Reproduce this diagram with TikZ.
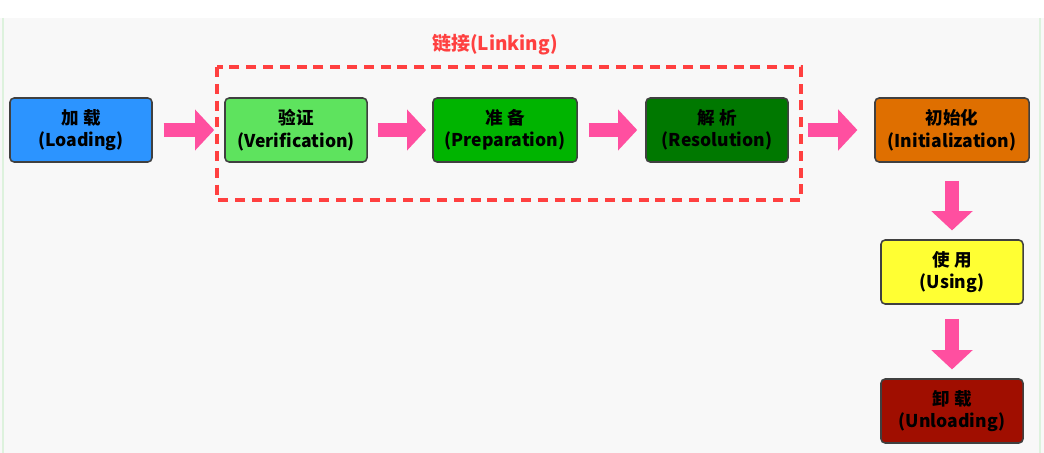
\documentclass[tikz,border=0pt]{standalone}
\usepackage{fontspec}
\newfontfamily\cjk{Noto Sans CJK SC}
\usetikzlibrary{arrows.meta}
\definecolor{bgray}{HTML}{F8F8F8}
\definecolor{edgegreen}{HTML}{DDF2DD}
\definecolor{pinkarrow}{HTML}{FF4FA0}
\definecolor{linkred}{HTML}{FF4040}
\definecolor{cload}{HTML}{2C94FF}
\definecolor{cverify}{HTML}{5EE35E}
\definecolor{cprep}{HTML}{00B400}
\definecolor{cresol}{HTML}{007800}
\definecolor{cinit}{HTML}{DF6F00}
\definecolor{cuse}{HTML}{FFFF33}
\definecolor{cunload}{HTML}{A00E00}
\tikzset{
  stage/.style={draw=black!75,line width=1.1pt,rounded corners=3pt,
    minimum width=3.55cm,minimum height=1.6cm,align=center,
    font=\cjk\bfseries\fontsize{12.5}{16}\selectfont},
  flow/.style={pinkarrow,line width=0.35cm,
    -{Triangle[width=1cm,length=0.48cm]}}
}
\begin{document}
\begin{tikzpicture}[x=0.025cm,y=-0.025cm]
  \useasboundingbox (0,0) rectangle (1044,453);
  \fill[bgray] (0,18) rectangle (1044,453);
  \draw[edgegreen,line width=1pt] (3,18) -- (3,453);
  \draw[edgegreen,line width=1pt] (1040,18) -- (1040,453);
  %
  \draw[linkred,line width=2.2pt,dash pattern=on 0.25cm off 0.17cm]
    (217,67) rectangle (801,200);
  \node[text=linkred,font=\cjk\bfseries\fontsize{13.5}{16}\selectfont] (link) at (495,45) {链接(Linking)};
  %
  \node[stage,fill=cload] (load) at (81,130) {加 载\\(Loading)};
  \node[stage,fill=cverify] (verify) at (296,130) {验证\\(Verification)};
  \node[stage,fill=cprep,minimum width=3.6cm] (prep) at (505,130) {准 备\\(Preparation)};
  \node[stage,fill=cresol] (resol) at (717,130) {解 析\\(Resolution)};
  \node[stage,fill=cinit,minimum width=3.85cm] (init) at (952,130) {初始化\\(Initialization)};
  \node[stage,fill=cuse] (use) at (952,272) {使 用\\(Using)};
  \node[stage,fill=cunload] (unload) at (952,411) {卸 载\\(Unloading)};
  %
  \draw[flow,shorten <=0.27cm,shorten >=0.25cm] (load) -- (verify);
  \draw[flow,shorten <=0.25cm,shorten >=0.15cm] (verify) -- (prep);
  \draw[flow,shorten <=0.27cm,shorten >=0.2cm] (prep) -- (resol);
  \draw[flow,shorten <=0.47cm,shorten >=0.42cm] (resol) -- (init);
  \draw[flow,shorten <=0.45cm,shorten >=0.22cm] (init) -- (use);
  \draw[flow,shorten <=0.35cm,shorten >=0.22cm] (use) -- (unload);
\end{tikzpicture}
\end{document}
